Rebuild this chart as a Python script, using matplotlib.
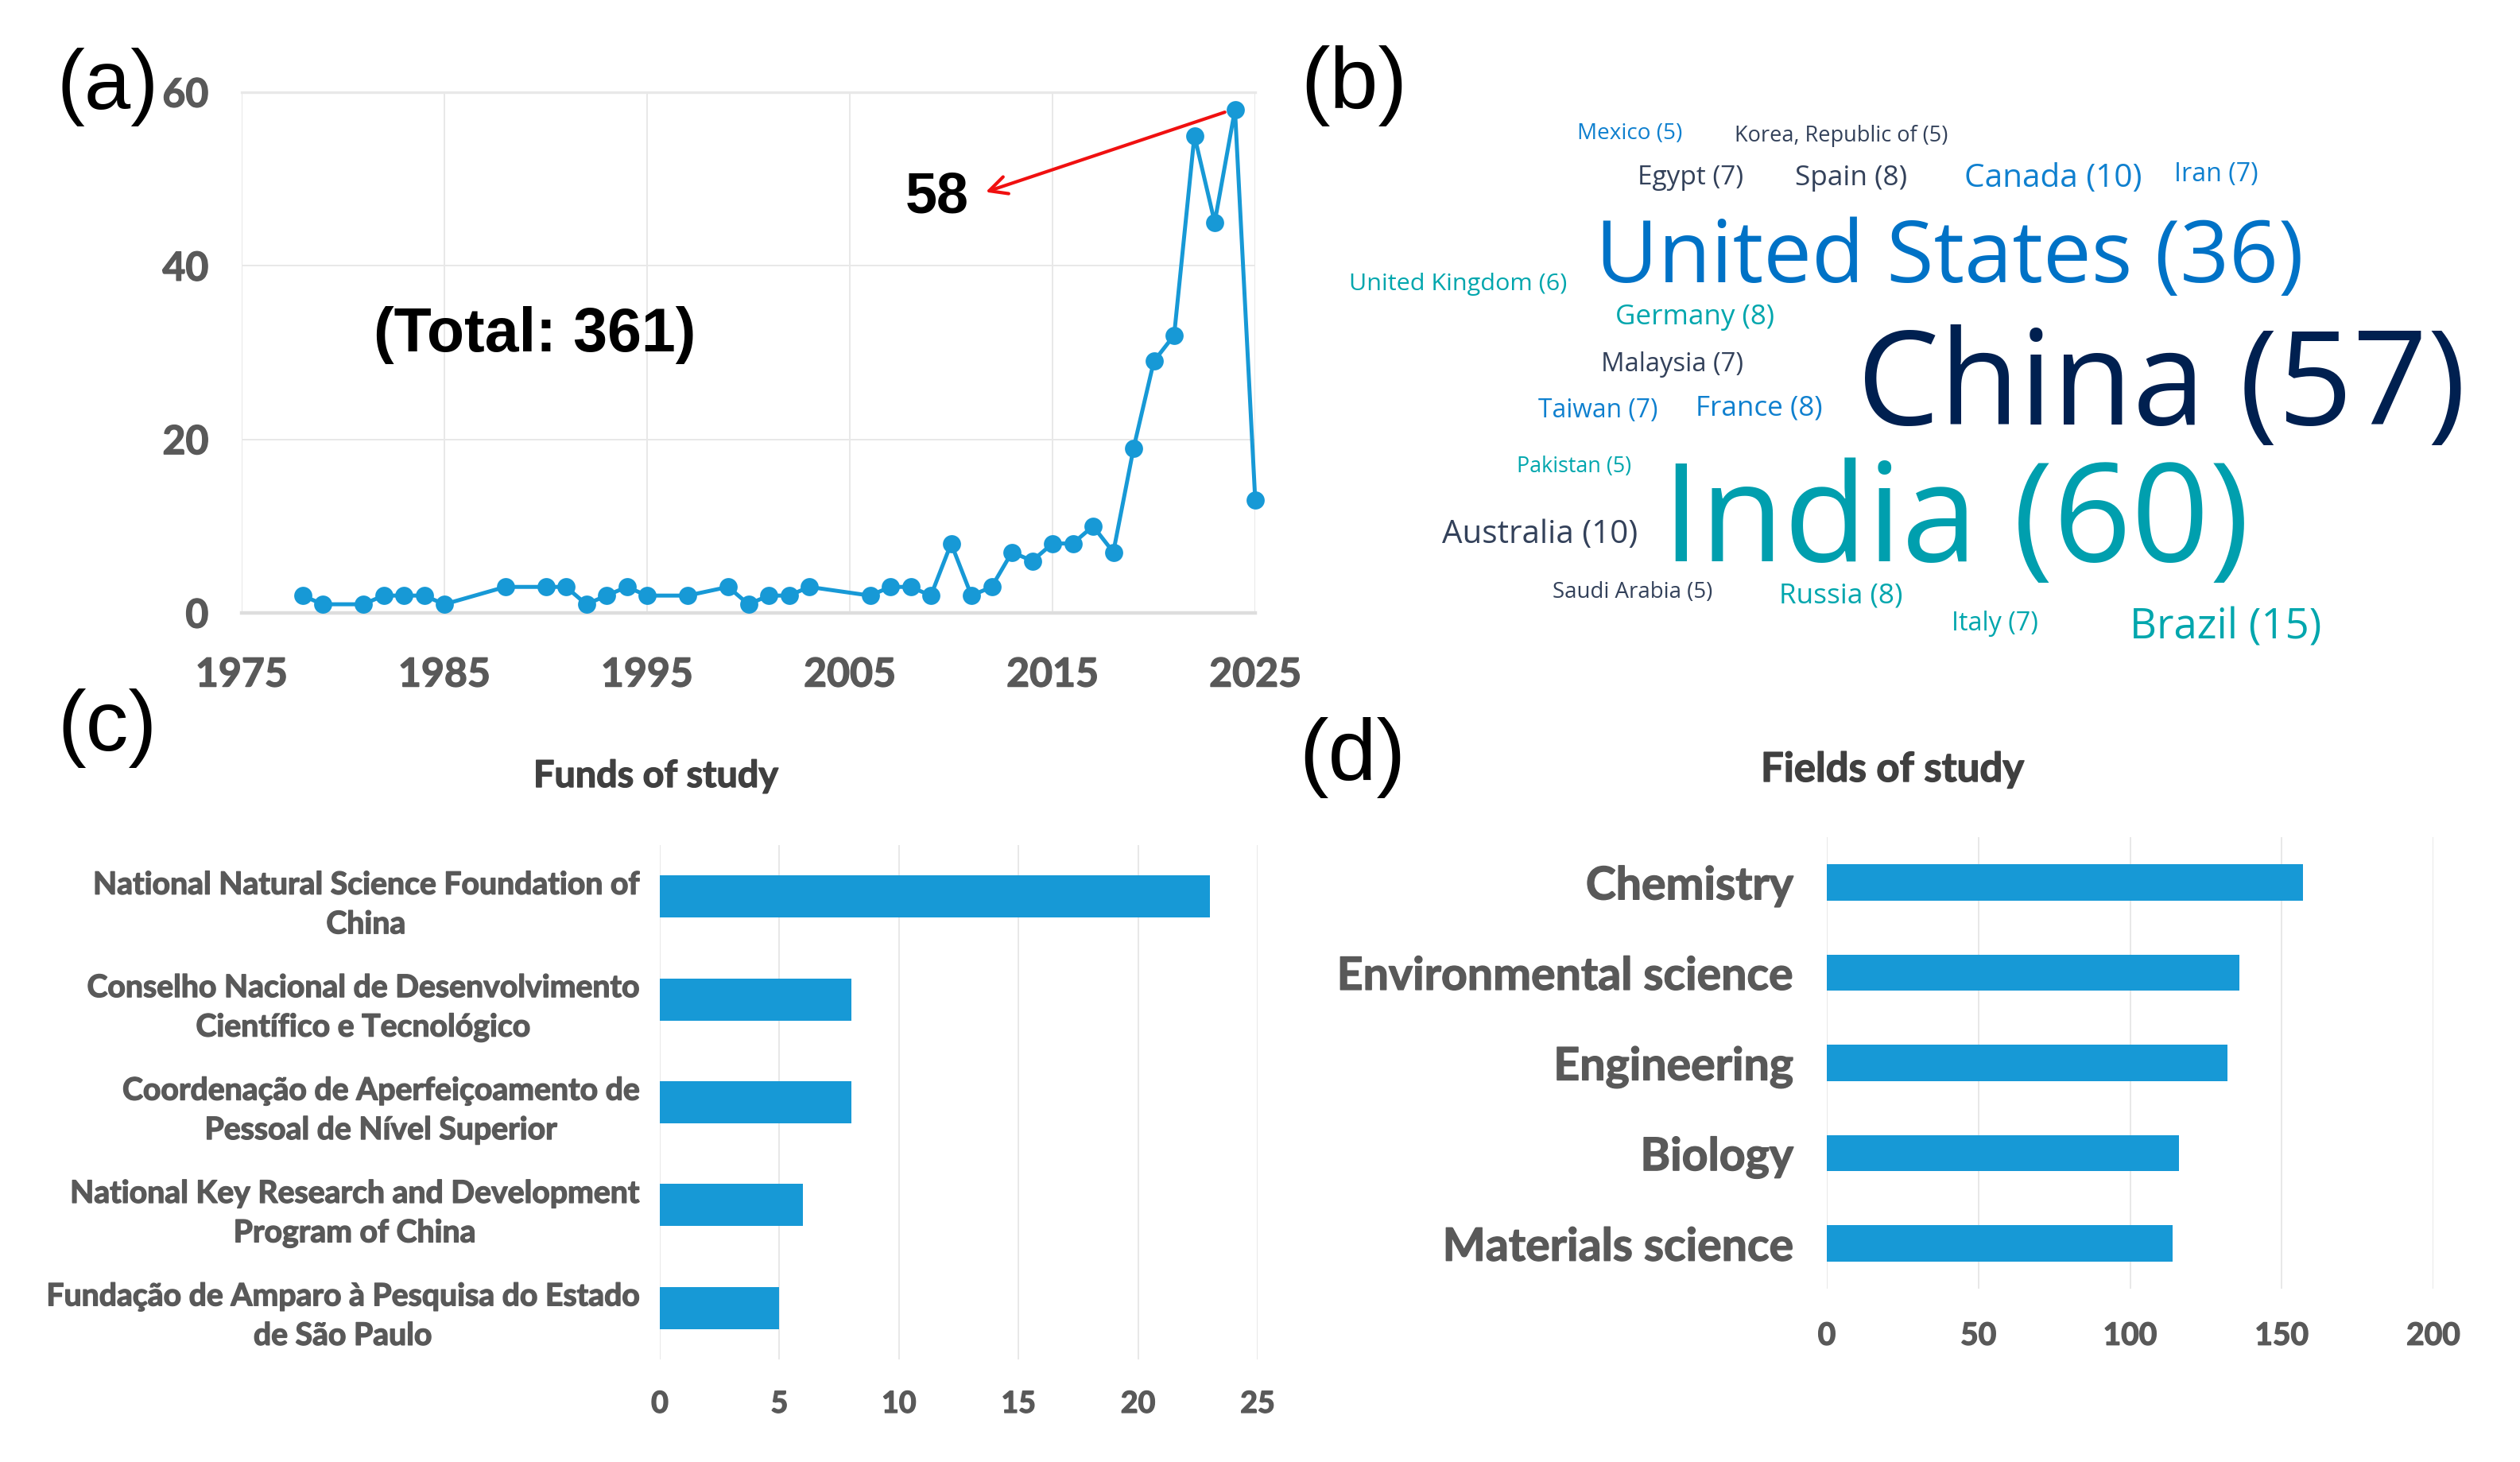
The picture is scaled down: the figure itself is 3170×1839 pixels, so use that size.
#!/usr/bin/env python3

import matplotlib

matplotlib.use("Agg")
import matplotlib.patheffects as pe
import matplotlib.pyplot as plt

W, H = 3170, 1839
DPI = 200
BLUE = "#1799D6"
GREY = "#595959"
GRID = "#E8E8E8"

years = [1978, 1979, 1981, 1982, 1983, 1984, 1985, 1988, 1990, 1991, 1992, 1993, 1994, 1995,
         1997, 1999, 2000, 2001, 2002, 2003, 2006, 2007, 2008, 2009, 2010, 2011, 2012, 2013,
         2014, 2015, 2016, 2017, 2018, 2019, 2020, 2021, 2022, 2023, 2024, 2025]
papers = [2, 1, 1, 2, 2, 2, 1, 3, 3, 3, 1, 2, 3, 2,
          2, 3, 1, 2, 2, 3, 2, 3, 3, 2, 8, 2, 3, 7,
          6, 8, 8, 10, 7, 19, 29, 32, 55, 45, 58, 13]

countries = ["Mexico", "Korea, Republic of", "Egypt", "Spain", "Canada", "Iran", "United States",
             "United Kingdom", "Germany", "China", "Malaysia", "Taiwan", "France", "Pakistan",
             "India", "Australia", "Saudi Arabia", "Russia", "Italy", "Brazil"]
country_counts = [5, 5, 7, 8, 10, 7, 36, 6, 8, 57, 7, 7, 8, 5, 60, 10, 5, 8, 7, 15]

funds = ["National Natural Science Foundation of\nChina",
         "Conselho Nacional de Desenvolvimento\nCientífico e Tecnológico",
         "Coordenação de Aperfeiçoamento de\nPessoal de Nível Superior",
         "National Key Research and Development\nProgram of China",
         "Fundação de Amparo à Pesquisa do Estado\nde São Paulo"]
fund_counts = [23, 8, 8, 6, 5]

fields = ["Chemistry", "Environmental science", "Engineering", "Biology", "Materials science"]
field_counts = [157, 136, 132, 116, 114]


def axes_px(fig, left, top, right, bottom):
    return fig.add_axes([left / W, 1 - bottom / H, (right - left) / W, (bottom - top) / H])


def thicken(text, colour, lw=0.5):
    text.set_path_effects([pe.withStroke(linewidth=lw, foreground=colour)])


def fit_text(ax, renderer, x0, x1, y, text, **kw):
    # scale the font so the text spans x0..x1 pixels, baseline at y
    t = ax.text(x0, y, text, ha="left", va="baseline", fontsize=20, **kw)
    width = t.get_window_extent(renderer).width
    t.set_fontsize(20 * (x1 - x0) / width)
    return t


def clean_axes(ax):
    ax.set_axisbelow(True)
    for spine in ax.spines.values():
        spine.set_visible(False)


def bold_ticks(ax):
    for lab in ax.get_xticklabels() + ax.get_yticklabels():
        lab.set_fontweight("bold")
        thicken(lab, GREY)


def hbar_panel(ax, labels, values, xmax, step, bar_h, y_size, x_size, ypad, xpad, linespacing=1.2):
    pos = list(range(len(labels)))
    ax.barh(pos, values, height=bar_h, color=BLUE)
    ax.set_ylim(len(labels) - 0.5, -0.5)
    ax.set_xlim(0, xmax)
    ax.set_xticks(list(range(0, xmax + 1, step)))
    ax.set_yticks(pos)
    ax.set_yticklabels(labels, ha="right", multialignment="center", linespacing=linespacing)
    ax.tick_params(axis="y", length=0, pad=ypad, labelsize=y_size, labelcolor=GREY)
    ax.tick_params(axis="x", length=0, pad=xpad, labelsize=x_size, labelcolor=GREY)
    bold_ticks(ax)
    ax.grid(axis="x", color=GRID, lw=0.7)
    clean_axes(ax)


def main():
    plt.rcParams["font.family"] = ["Lato", "DejaVu Sans"]
    fig = plt.figure(figsize=(W / DPI, H / DPI), dpi=DPI, facecolor="white")
    renderer = fig.canvas.get_renderer()

    # (a) papers per year
    ax_a = axes_px(fig, 304, 116, 1579, 771)
    ax_a.plot(years, papers, "-o", color=BLUE, lw=1.8, ms=7.2, clip_on=False, zorder=3)
    ax_a.set_xlim(1975, 2025)
    ax_a.set_ylim(0, 60)
    ax_a.set_xticks([1975, 1985, 1995, 2005, 2015, 2025])
    ax_a.set_yticks([0, 20, 40, 60])
    ax_a.tick_params(axis="y", length=0, pad=15, labelsize=18, labelcolor=GREY)
    ax_a.tick_params(axis="x", length=0, pad=20, labelsize=18, labelcolor=GREY)
    bold_ticks(ax_a)
    ax_a.grid(color=GRID, lw=0.7)
    clean_axes(ax_a)
    ax_a.spines["bottom"].set_visible(True)
    ax_a.spines["bottom"].set_color("#DDDDDD")
    ax_a.spines["bottom"].set_linewidth(1.6)
    ax_a.spines["top"].set_visible(True)
    ax_a.spines["top"].set_color(GRID)
    ax_a.spines["top"].set_linewidth(1.2)
    ax_a.annotate("", xy=(2011.7, 48.5), xytext=(2023.5, 57.7),
                  arrowprops=dict(arrowstyle="->", color="#F01010", lw=1.5, mutation_scale=20,
                                  shrinkA=0, shrinkB=0))

    # (c) and (d) bar panels
    ax_c = axes_px(fig, 830, 1063, 1582, 1710)
    hbar_panel(ax_c, funds, fund_counts, 25, 5, 0.41, 14.1, 13.5, 9.5, 14, linespacing=1.5)
    ax_d = axes_px(fig, 2298, 1053, 3061, 1621)
    hbar_panel(ax_d, fields, field_counts, 200, 50, 0.4, 20.6, 14, 15, 15)

    # overlay in image pixels for the word cloud and loose labels
    over = fig.add_axes([0, 0, 1, 1], facecolor="none")
    over.set_xlim(0, W)
    over.set_ylim(H, 0)
    over.axis("off")

    sans = ["Liberation Sans", "DejaVu Sans"]
    for text, x0, x1, y in [("(a)", 72, 200, 137), ("(b)", 1636, 1770, 136),
                            ("(c)", 72, 197, 944), ("(d)", 1634, 1768, 981)]:
        fit_text(over, renderer, x0, x1, y, text, family=sans, color="black")
    fit_text(over, renderer, 1139, 1219, 267, "58", family=sans, weight="bold", color="black")
    fit_text(over, renderer, 470, 874, 442, "(Total: 361)", family=sans, weight="bold", color="black")
    thicken(fit_text(over, renderer, 671, 979, 990, "Funds of study", weight="bold", color="#404040"), "#404040")
    thicken(fit_text(over, renderer, 2215, 2546, 983, "Fields of study", weight="bold", color="#404040"), "#404040")

    # (b) word cloud: x0, x1, baseline, colour, in the order of countries
    navy, mid, teal, slate = "#002050", "#0F80CF", "#00A6AD", "#33415A"
    cloud = [(1984, 2116, 175, mid), (2182, 2450, 178, slate), (2060, 2193, 232, slate),
             (2258, 2399, 233, slate), (2471, 2694, 235, mid), (2735, 2840, 228, mid),
             (2007, 2897, 355, "#0072C6"), (1697, 1970, 365, teal), (2032, 2232, 408, teal),
             (2336, 3101, 534, navy), (2014, 2193, 467, slate), (1935, 2085, 525, mid),
             (2133, 2292, 523, mid), (1908, 2052, 594, teal), (2091, 2829, 706, "#009FAE"),
             (1814, 2060, 683, slate), (1953, 2154, 752, slate), (2238, 2393, 759, teal),
             (2455, 2564, 793, teal), (2679, 2920, 803, teal)]
    for name, count, (x0, x1, y, colour) in zip(countries, country_counts, cloud):
        fit_text(over, renderer, x0, x1, y, f"{name} ({count})", family=["Open Sans", "DejaVu Sans"],
                 color=colour)

    fig.savefig("out.png", dpi=DPI, facecolor="white")
    plt.close(fig)


if __name__ == "__main__":
    main()
